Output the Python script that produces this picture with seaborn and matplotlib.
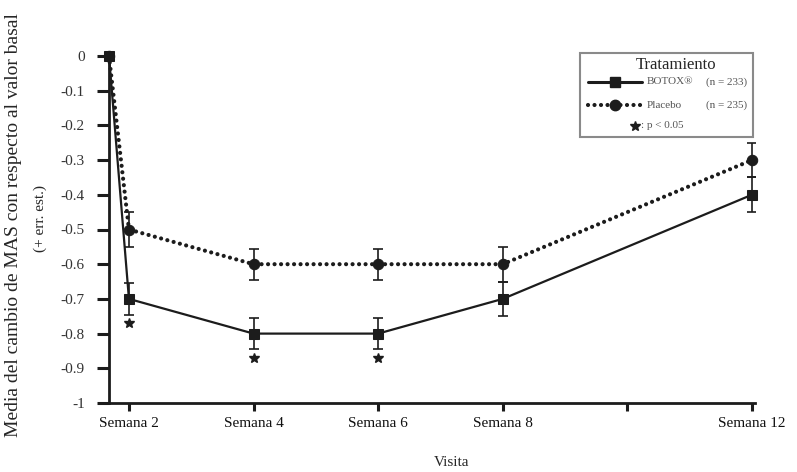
import numpy as np
import pandas as pd
import matplotlib
matplotlib.use('Agg')
import matplotlib.pyplot as plt
import seaborn as sns
from matplotlib.lines import Line2D
from matplotlib.patches import Rectangle

### data
semanas = [0, 2, 4, 6, 8, 12]
etiquetas = ['Semana 2', 'Semana 4', 'Semana 6', 'Semana 8', '', 'Semana 12']
tick_semanas = [2, 4, 6, 8, 10, 12]
botox = [0, -0.7, -0.8, -0.8, -0.7, -0.4]
botox_err = [0, 0.045, 0.045, 0.045, 0.05, 0.05]
placebo = [0, -0.5, -0.6, -0.6, -0.6, -0.3]
placebo_err = [0, 0.05, 0.045, 0.045, 0.05, 0.05]
signif = [False, True, True, True, False, False]

sns.set_style('white')
plt.rcParams['font.family'] = ['Liberation Serif', 'DejaVu Serif']

W, H = 797, 472
def px(x, y):
    # pixel -> figure fraction
    return x / W, 1 - y / H

X0 = 1.68  # baseline visit sits on the y axis
pos = [max(s, X0) for s in semanas]
df = pd.DataFrame({'pos': pos, 'botox': botox, 'placebo': placebo,
                   'botox_err': botox_err, 'placebo_err': placebo_err})

col = '#1c1c1c'
dots = (0, (0.01, 1.55))
fig = plt.figure(figsize=(W/100, H/100), dpi=100)
ax = fig.add_axes([109/W, 1-403/H, (755-109)/W, (403-56)/H])

### error bars
for serie, err in [('botox', 'botox_err'), ('placebo', 'placebo_err')]:
    d = df[df[err] > 0]
    ax.errorbar(d['pos'], d[serie], yerr=d[err], fmt='none', ecolor=col,
                elinewidth=1.2, capsize=3.8, capthick=1.2, zorder=2)

### lines
sns.lineplot(data=df, x='pos', y='botox', ax=ax, color=col, linewidth=1.6,
             marker='s', markersize=7, markeredgecolor=col, clip_on=False, zorder=3)
sns.lineplot(data=df, x='pos', y='placebo', ax=ax, color=col, linewidth=3.0,
             linestyle=dots, dash_capstyle='round',
             marker='o', markersize=7.5, markeredgecolor=col, clip_on=False, zorder=4)

### significance stars
d = df[signif]
ax.plot(d['pos'], d['botox'] - d['botox_err'] - 0.025, linestyle='none',
        marker='*', markersize=7, color=col, zorder=3)

ax.set_xlim(X0, 12.05)
ax.set_ylim(-1, 0)
ax.set_yticks(np.arange(0, -1.01, -0.1))
ax.set_yticklabels(['0'] + [f'{v:.1f}' for v in np.arange(-0.1, -0.95, -0.1)] + ['-1'],
                   fontsize=11, color='#333333')
ax.set_xticks(tick_semanas)
ax.set_xticklabels(etiquetas, fontsize=11, color='#111111')
ax.tick_params(axis='y', direction='out', length=8.5, width=2.2, color=col, pad=9, left=True)
ax.tick_params(axis='x', direction='out', length=6, width=2.2, color=col, pad=4, bottom=True)
ax.set_xlabel('')
ax.set_ylabel('')
for s in ['top', 'right']:
    ax.spines[s].set_visible(False)
for s in ['left', 'bottom']:
    ax.spines[s].set_color(col)
    ax.spines[s].set_linewidth(2.0)

fig.text(*px(14, 225), 'Media del cambio de MAS con respecto al valor basal',
         rotation=90, fontsize=14, ha='center', va='center')
fig.text(*px(40, 218), '(+ err. est.)', rotation=90, fontsize=11,
         ha='center', va='center')
fig.text(*px(452, 462), 'Visita', fontsize=11, ha='center', va='center')

### legend box drawn by hand
x0, y0 = px(580, 137)
x1, y1 = px(753, 53)
fig.add_artist(Rectangle((x0, y0), x1 - x0, y1 - y0, transform=fig.transFigure,
                         facecolor='white', edgecolor='#8a8a8a', linewidth=1.5, zorder=5))
fig.text(*px(676, 65), 'Tratamiento', fontsize=12, ha='center', va='center', zorder=6)

for y, ls, lw, mk, ms in [(82, '-', 2.2, 's', 7), (105, dots, 3.0, 'o', 7.5)]:
    (xa, ya), (xb, _) = px(588, y), px(642, y)
    fig.add_artist(Line2D([xa, xb], [ya, ya], transform=fig.transFigure, color=col,
                          linewidth=lw, linestyle=ls, dash_capstyle='round', zorder=6))
    fig.add_artist(Line2D([(xa + xb) / 2], [ya], transform=fig.transFigure, color=col,
                          marker=mk, markersize=ms, linestyle='none', zorder=7))

gris = '#555555'
fig.text(*px(647, 82), 'BOTOX\u00ae', fontsize=8, color=gris, va='center', zorder=6)
fig.text(*px(706, 82), '(n = 233)', fontsize=8, color=gris, va='center', zorder=6)
fig.text(*px(647, 105), 'Placebo', fontsize=8, color=gris, va='center', zorder=6)
fig.text(*px(706, 105), '(n = 235)', fontsize=8, color=gris, va='center', zorder=6)
fig.add_artist(Line2D([px(635, 126)[0]], [px(635, 126)[1]], transform=fig.transFigure,
                      color=col, marker='*', markersize=7, linestyle='none', zorder=7))
fig.text(*px(641, 126), ': p < 0.05', fontsize=8, color=gris, va='center', zorder=6)

fig.savefig('out.png', dpi=100)
